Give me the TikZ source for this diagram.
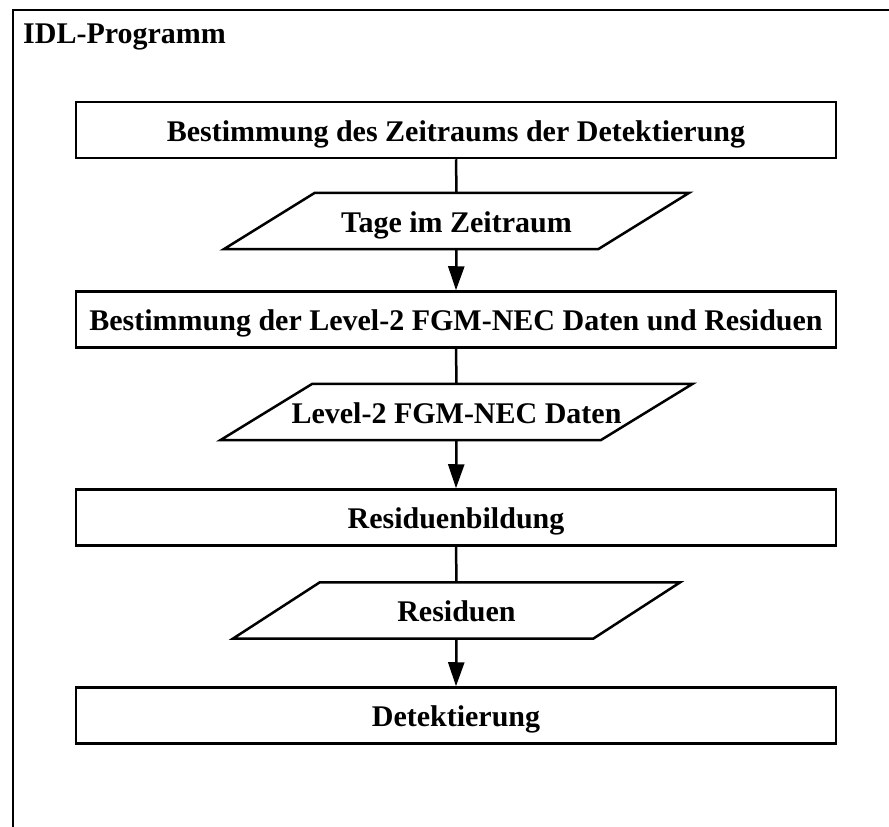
\documentclass[tikz,border=0pt]{standalone}
\usepackage{fontspec}
\setmainfont{Liberation Serif}
\usetikzlibrary{arrows.meta,calc}

\begin{document}
\begin{tikzpicture}[x=1pt, y=-1pt,
  every node/.style={font=\fontsize{30}{36}\selectfont\bfseries, inner sep=0pt},
  label text/.style={text height=29pt, text depth=7pt},
  stepbox/.style={label text, draw, line width=2.5pt, minimum width=760pt, minimum height=56pt},
  iobox/.style={label text, minimum height=56pt},
  ioshape/.style={draw, line width=2.5pt, line join=miter},
  flow/.style={line width=2.5pt},
  flowarrow/.style={line width=2.5pt, -{Triangle[length=24pt, width=16pt]}}
]
\useasboundingbox (0,0) rectangle (889,827);

% outer frame, running past the right and bottom edges
\begin{scope}
  \clip (0,0) rectangle (889,827);
  \draw[line width=2.5pt] (13,10) rectangle (900,840);
\end{scope}

\node[anchor=base west] (title) at (23,43) {IDL-Programm};

% process steps
\node[stepbox] (s1) at (456,130)   {Bestimmung des Zeitraums der Detektierung};
\node[stepbox] (s2) at (456,319.5) {Bestimmung der Level-2 FGM-NEC Daten und Residuen};
\node[stepbox] (s3) at (456,517.5) {Residuenbildung};
\node[stepbox] (s4) at (456,715.5) {Detektierung};

% data (parallelograms): text nodes with the slanted outline drawn around them
\node[iobox, minimum width=374pt] (d1) at (456.5,221)   {Tage im Zeitraum};
\node[iobox, minimum width=380pt] (d2) at (456.5,412)   {Level-2 FGM-NEC Daten};
\node[iobox, minimum width=360pt] (d3) at (456.5,610.5) {Residuen};

\draw[ioshape] ($(d1.north west)+(45.5,0)$) -- ($(d1.north east)+(45.5,0)$)
  -- ($(d1.south east)-(45.5,0)$) -- ($(d1.south west)-(45.5,0)$) -- cycle;
\draw[ioshape] ($(d2.north west)+(46,0)$) -- ($(d2.north east)+(46,0)$)
  -- ($(d2.south east)-(46,0)$) -- ($(d2.south west)-(46,0)$) -- cycle;
\draw[ioshape] ($(d3.north west)+(43.5,0)$) -- ($(d3.north east)+(43.5,0)$)
  -- ($(d3.south east)-(43.5,0)$) -- ($(d3.south west)-(43.5,0)$) -- cycle;

% connectors
\draw[flow] (s1.south) -- (d1.north);
\draw[flowarrow] (d1.south) -- (s2.north);
\draw[flow] (s2.south) -- (d2.north);
\draw[flowarrow] (d2.south) -- (s3.north);
\draw[flow] (s3.south) -- (d3.north);
\draw[flowarrow] (d3.south) -- (s4.north);
\end{tikzpicture}
\end{document}
